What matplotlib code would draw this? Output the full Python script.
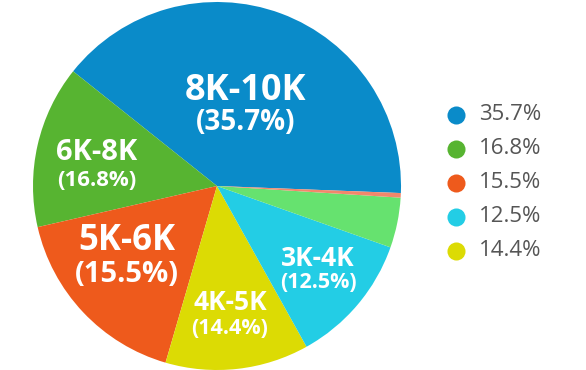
import matplotlib.pyplot as plt

# slice shares as drawn in the picture (angles)
slice_share = [39.9, 14.3, 16.9, 12.6, 11.5, 4.4, 0.4]
slice_colors = ['#0a8bc9', '#57b431', '#ee5a1c', '#dcdb04', '#23cde5', '#66e26f', '#f2876b']

labels = ['8K-10K', '6K-8K', '5K-6K', '4K-5K', '3K-4K']
label_pct = ['35.7%', '16.8%', '15.5%', '14.4%', '12.5%']

legend_pct = ['35.7%', '16.8%', '15.5%', '12.5%', '14.4%']
legend_colors = ['#0a8bc9', '#57b431', '#ee5a1c', '#23cde5', '#dcdb04']

W, H = 586, 370
fig = plt.figure(figsize=(W / 100, H / 100), dpi=100)
ax = fig.add_axes([0, 0, 1, 1])
ax.axis('off')

ax.pie(slice_share, colors=slice_colors, startangle=-2.2, counterclock=True,
       center=(217, H - 186), radius=184,
       wedgeprops={'linewidth': 0})
ax.set_xlim(0, W)
ax.set_ylim(0, H)
ax.set_aspect('equal')

font = 'Open Sans'
# (x, y of name, y of pct, name size, pct size)
spots = [
    (246, 91, 123, 26, 20),
    (97, 153, 181, 21, 16),
    (127, 241, 275, 25, 21),
    (230, 303, 328, 19, 15.5),
    (318, 258, 282, 19, 15.5),
]
for (x, y1, y2, s1, s2), name, pct in zip(spots, labels, label_pct):
    ax.text(x, H - y1, name, ha='center', va='center', color='white',
            fontsize=s1, fontweight='bold', family=font)
    ax.text(x, H - y2, '(' + pct + ')', ha='center', va='center', color='white',
            fontsize=s2, fontweight='bold', family=font)

# legend
for i, (pct, c) in enumerate(zip(legend_pct, legend_colors)):
    y = H - (115 + i * 34)
    ax.plot(456, y, 'o', color=c, markersize=13, markeredgewidth=0)
    ax.text(479, y, pct, ha='left', va='center', color='#555555',
            fontsize=16, family=font)

fig.savefig('out.png', dpi=100)
